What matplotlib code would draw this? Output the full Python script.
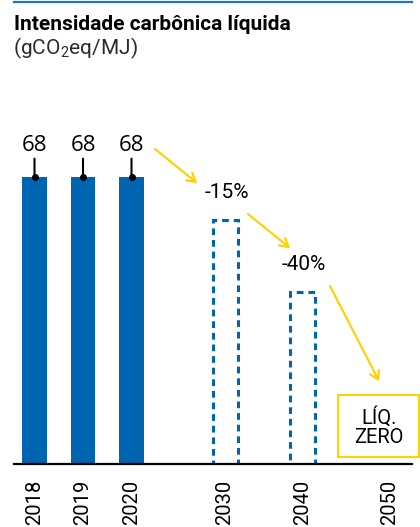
import matplotlib
matplotlib.use('Agg')
import matplotlib.pyplot as plt
from matplotlib.patches import Rectangle
from matplotlib.lines import Line2D

plt.rcParams['font.family'] = ['Roboto', 'DejaVu Sans']
plt.rcParams['mathtext.fontset'] = 'custom'
plt.rcParams['mathtext.rm'] = 'Roboto'
plt.rcParams['mathtext.it'] = 'Roboto:italic'

# data
years = ['2018', '2019', '2020', '2030', '2040', '2050']
actual = [68, 68, 68]
reduction = [0.15, 0.40]          # targets for 2030, 2040
targets = [actual[-1] * (1 - r) for r in reduction]
target_labels = ['-15%', '-40%']
title = 'Intensidade carbônica líquida'
unit = r'(gCO$_\mathrm{2}$eq/MJ)'

blue = '#0065b0'
yellow = '#ffd200'

W, H = 420, 527
fig = plt.figure(figsize=(W / 100, H / 100), dpi=100)

# axes placed in pixels: x 14..412, baseline at y=464
px_per_unit_y = 287 / 68
ax_top = 100
ax = fig.add_axes([14 / W, (H - 464) / H, 398 / W, (464 - ax_top) / H])
xpos = [0, 1, 2, 3.93, 5.52, 7.33]
ax.set_xlim(-20.5 / 48.5, (398 - 20.5) / 48.5)
ax.set_ylim(0, (464 - ax_top) / px_per_unit_y)

bw = 0.515
ax.bar(xpos[:3], actual, width=bw, color=blue, zorder=2)
ax.bar(xpos[3:5], targets, width=bw, fill=False, edgecolor=blue,
       linewidth=2.2, linestyle=(0, (2.2, 1.6)), zorder=2)

# value labels with leader line
for x, v in zip(xpos[:3], actual):
    ax.annotate(str(v), xy=(x, v), xytext=(x, v + 5.0), ha='center', va='bottom',
                fontsize=16, family=['Open Sans', 'DejaVu Sans'],
                arrowprops=dict(arrowstyle='-', color='black', lw=1.5,
                                shrinkA=0, shrinkB=0))
    ax.plot(x, v, 'o', color='black', ms=4, zorder=3)

for x, v, lab in zip(xpos[3:5], targets, target_labels):
    ax.text(x + 0.03, v + 4.3, lab, ha='center', va='bottom', fontsize=15)

ax.spines[['top', 'right', 'left']].set_visible(False)
ax.spines['bottom'].set_linewidth(1.6)
ax.set_yticks([])
ax.set_xticks(xpos)
ax.set_xticklabels(years, rotation=90, fontsize=14.5)
ax.tick_params(axis='x', length=0, pad=11)


def px(x, y):
    return (x, H - y)


# yellow arrows (figure pixels)
for a, b in [((155, 149), (197, 183)), ((248, 214), (290, 248)), ((330, 286), (379, 381))]:
    fig.add_artist(plt.annotate('', xy=px(*b), xytext=px(*a), xycoords='figure pixels',
                                textcoords='figure pixels',
                                arrowprops=dict(arrowstyle='->,head_length=0.6,head_width=0.35',
                                                color=yellow, lw=1.3, shrinkA=0, shrinkB=0)))

# net zero box
fig.add_artist(Rectangle((338 / W, (H - 457) / H), 81 / W, 62 / H, transform=fig.transFigure,
                         fill=False, edgecolor=yellow, lw=1.5))
fig.text(379 / W, (H - 427) / H, 'LÍQ.\nZERO', ha='center', va='center', fontsize=14.5,
         linespacing=1.05)

# title
fig.add_artist(Line2D([14 / W, 412 / W], [(H - 2) / H] * 2, color='#1f77c4', lw=1.6,
                      transform=fig.transFigure))
fig.text(14 / W, (H - 15) / H, title, fontsize=15, fontweight='bold', va='top')
fig.text(13 / W, (H - 36) / H, unit, fontsize=15, va='top', color='#2a2a2a')

fig.savefig('out.png', dpi=100)
